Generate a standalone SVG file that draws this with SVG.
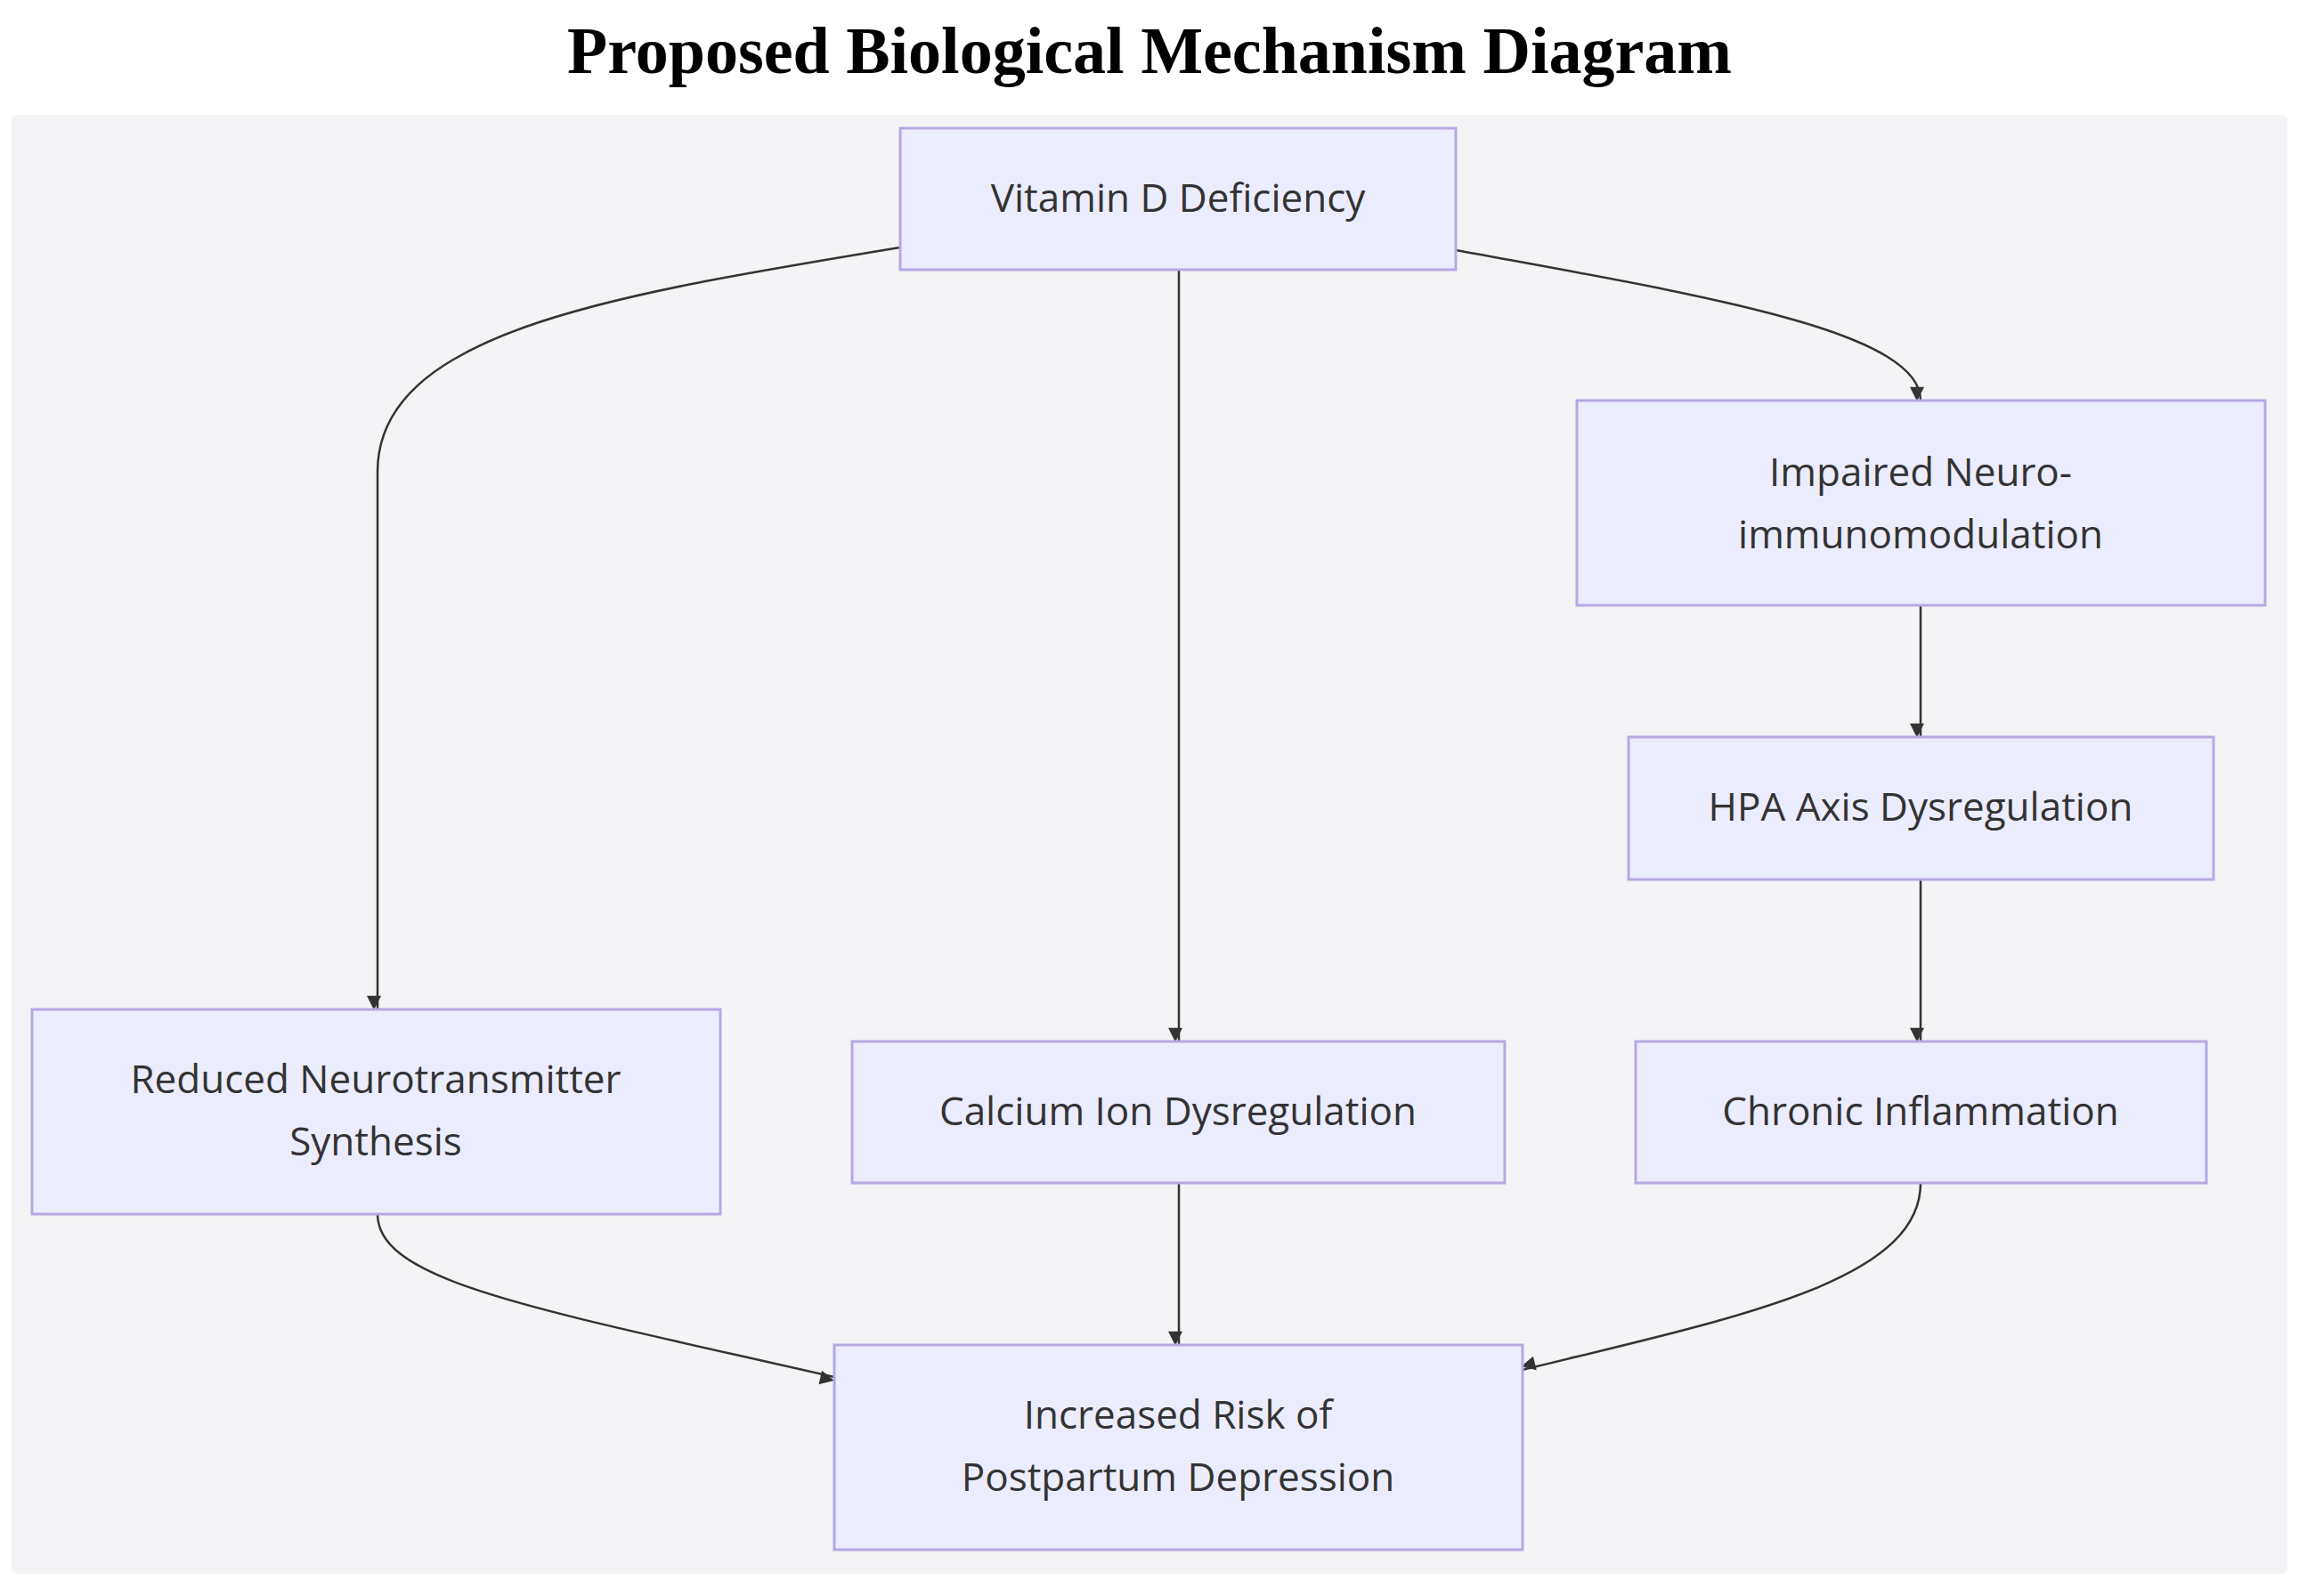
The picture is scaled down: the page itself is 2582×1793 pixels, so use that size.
<svg xmlns="http://www.w3.org/2000/svg" width="2582" height="1793" viewBox="0 0 2582 1793">
<style>
.n{fill:#ececff;stroke:#b5a8e3;stroke-width:3}
.t{font-family:"Open Sans","DejaVu Sans",sans-serif;font-size:44px;fill:#333;text-anchor:middle}
.c{fill:none;stroke:#333;stroke-width:2.5;marker-end:url(#a)}
</style>
<defs><marker id="a" viewBox="0 0 10 10" refX="9" refY="5" markerWidth="8" markerHeight="8" markerUnits="userSpaceOnUse" orient="auto" style="overflow:visible"><path d="M0,0L10,5L0,10z" fill="#333" transform="scale(2)translate(-5,0)"/></marker></defs>
<rect width="2582" height="1793" fill="#fff"/>
<text x="1291" y="82" font-family="Liberation Serif,serif" font-weight="bold" font-size="74" text-anchor="middle" fill="#000">Proposed Biological Mechanism Diagram</text>
<rect x="13" y="129" width="2556" height="1639" rx="6" fill="#f4f4f6"/>
<g id="connectors">
<path class="c" d="M1011,278 C700,330 424,370 424,530 L424,1134"/>
<path class="c" d="M1324,303 L1324,1170"/>
<path class="c" d="M1635,281 C1900,330 2157,370 2157,450"/>
<path class="c" d="M2157,680 L2157,828"/>
<path class="c" d="M2157,988 L2157,1170"/>
<path class="c" d="M424,1364 C424,1440 600,1470 937,1547"/>
<path class="c" d="M1324,1329 L1324,1511"/>
<path class="c" d="M2157,1329 C2157,1440 1950,1480 1710,1539"/>
</g>
<g id="vitd"><rect class="n" x="1011" y="144" width="624" height="159"/><text class="t" x="1323" y="238">Vitamin D Deficiency</text></g>
<g id="impaired"><rect class="n" x="1771" y="450" width="773" height="230"/><text class="t" x="2157" y="546">Impaired Neuro-</text><text class="t" x="2157" y="616">immunomodulation</text></g>
<g id="hpa"><rect class="n" x="1829" y="828" width="657" height="160"/><text class="t" x="2157" y="922">HPA Axis Dysregulation</text></g>
<g id="chronic"><rect class="n" x="1837" y="1170" width="641" height="159"/><text class="t" x="2157" y="1264">Chronic Inflammation</text></g>
<g id="calcium"><rect class="n" x="957" y="1170" width="733" height="159"/><text class="t" x="1323" y="1264">Calcium Ion Dysregulation</text></g>
<g id="reduced"><rect class="n" x="36" y="1134" width="773" height="230"/><text class="t" x="422" y="1228">Reduced Neurotransmitter</text><text class="t" x="422" y="1298">Synthesis</text></g>
<g id="increased"><rect class="n" x="937" y="1511" width="773" height="230"/><text class="t" x="1323" y="1605">Increased Risk of</text><text class="t" x="1323" y="1675">Postpartum Depression</text></g>
</svg>
